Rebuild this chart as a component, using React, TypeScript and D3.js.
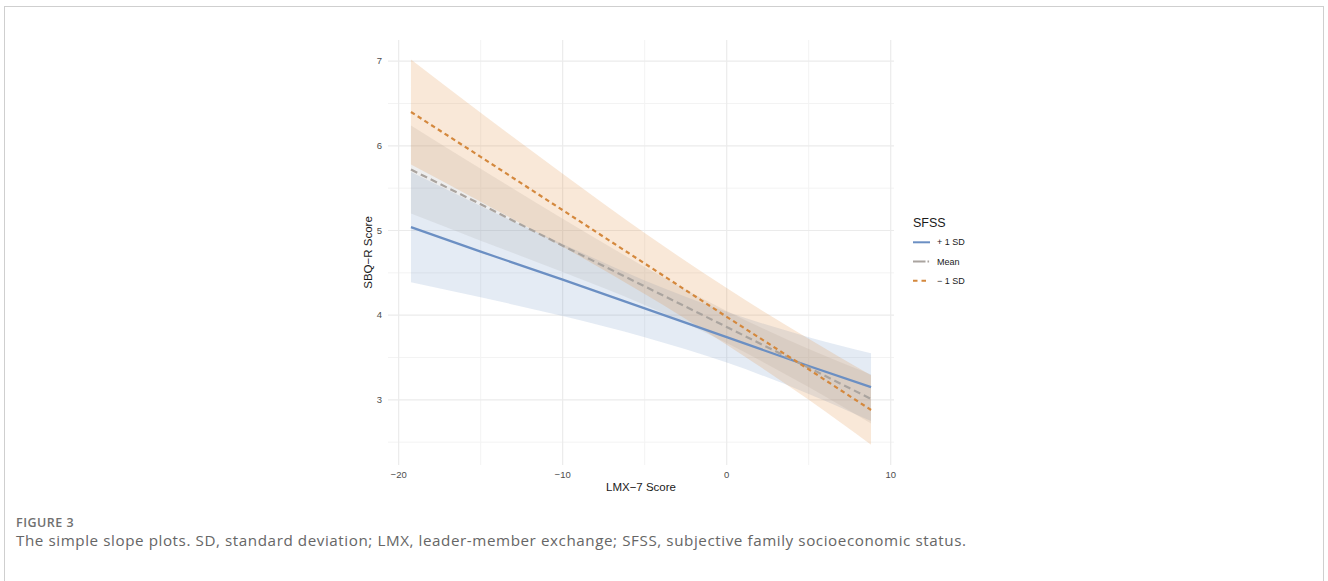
import React from "react";
import * as d3 from "d3";

// LMX-7 score positions the fitted values / bands were read at
const lmx = [-19.25, -15, -10, -5, 0, 5, 8.8];

// fitted SBQ-R score per SFSS level
const plusSdFit = [5.04, 4.75, 4.42, 4.08, 3.74, 3.4, 3.15];
const meanFit = [5.72, 5.31, 4.82, 4.34, 3.86, 3.38, 3.01];
const minusSdFit = [6.4, 5.87, 5.24, 4.61, 3.98, 3.36, 2.88];

// confidence bands
const plusSdLow = [4.39, 4.21, 3.99, 3.74, 3.44, 3.07, 2.75];
const plusSdHigh = [5.69, 5.29, 4.84, 4.41, 4.04, 3.74, 3.55];
const meanLow = [5.2, 4.88, 4.51, 4.12, 3.67, 3.15, 2.72];
const meanHigh = [6.24, 5.73, 5.14, 4.57, 4.05, 3.6, 3.3];
const minusSdLow = [5.78, 5.34, 4.81, 4.25, 3.65, 3.0, 2.47];
const minusSdHigh = [7.02, 6.39, 5.67, 4.97, 4.32, 3.72, 3.29];

const xTicks = [-20, -10, 0, 10];
const xMinor = [-15, -5, 5];
const yTicks = [3, 4, 5, 6, 7];
const yMinor = [2.5, 3.5, 4.5, 5.5, 6.5];
const levels = ["+ 1 SD", "Mean", "\u2212 1 SD"];

const W = 1328;
const H = 581;
const panel = { left: 388, right: 894, top: 40, bottom: 465 };

const series = [
  { name: levels[0], fit: plusSdFit, lo: plusSdLow, hi: plusSdHigh, color: "#6b8fc3", fill: "#6b8fc3", alpha: 0.18, dash: null, legendDash: null },
  { name: levels[1], fit: meanFit, lo: meanLow, hi: meanHigh, color: "#aaa49f", fill: "#a9a9a9", alpha: 0.2, dash: "7,4", legendDash: "12.5,2,1.6,10" },
  { name: levels[2], fit: minusSdFit, lo: minusSdLow, hi: minusSdHigh, color: "#d4883d", fill: "#e08a3a", alpha: 0.2, dash: "4.5,3.5", legendDash: "4.5,4" },
];

const tickFont = "'Liberation Sans', Arial, sans-serif";
const captionFont = "'Open Sans', sans-serif";

export default function App() {
  const x = d3.scaleLinear().domain([-20.65, 10.2]).range([panel.left, panel.right]);
  const y = d3.scaleLinear().domain([2.23, 7.25]).range([panel.bottom, panel.top]);

  const band = d3
    .area<number>()
    .x((_, i) => x(lmx[i]))
    .curve(d3.curveMonotoneX);
  const line = d3
    .line<number>()
    .x((_, i) => x(lmx[i]))
    .y((d) => y(d));

  return (
    <svg width={W} height={H} style={{ position: "absolute", left: 0, top: 0, background: "#fff" }}>
      <rect x={4.5} y={6.5} width={1319} height={640} fill="none" stroke="#cfcfcf" />

      {/* grid */}
      {yMinor.map((v) => (
        <line key={"ym" + v} x1={panel.left} x2={panel.right} y1={y(v)} y2={y(v)} stroke="#f3f3f3" strokeWidth={1} />
      ))}
      {xMinor.map((v) => (
        <line key={"xm" + v} x1={x(v)} x2={x(v)} y1={panel.top} y2={panel.bottom} stroke="#f3f3f3" strokeWidth={1} />
      ))}
      {yTicks.map((v) => (
        <line key={"y" + v} x1={panel.left} x2={panel.right} y1={y(v)} y2={y(v)} stroke="#ebebeb" strokeWidth={1.2} />
      ))}
      {xTicks.map((v) => (
        <line key={"x" + v} x1={x(v)} x2={x(v)} y1={panel.top} y2={panel.bottom} stroke="#ebebeb" strokeWidth={1.2} />
      ))}

      {/* confidence bands */}
      {series.map((s) => (
        <path
          key={"band" + s.name}
          d={band.y0((_, i) => y(s.lo[i])).y1((_, i) => y(s.hi[i]))(s.fit) || ""}
          fill={s.fill}
          fillOpacity={s.alpha}
        />
      ))}

      {/* fitted lines */}
      {series.map((s) => (
        <path
          key={"line" + s.name}
          d={line(s.fit) || ""}
          fill="none"
          stroke={s.color}
          strokeWidth={2.2}
          strokeDasharray={s.dash || undefined}
        />
      ))}

      {/* tick labels */}
      {yTicks.map((v) => (
        <text key={"yl" + v} x={panel.left - 6} y={y(v)} dy="0.35em" textAnchor="end" fontFamily={tickFont} fontSize={9.5} fill="#4d4d4d">
          {v}
        </text>
      ))}
      {xTicks.map((v) => (
        <text key={"xl" + v} x={x(v)} y={477.5} textAnchor="middle" fontFamily={tickFont} fontSize={9.5} fill="#4d4d4d">
          {d3.format("")(v).replace("-", "\u2212")}
        </text>
      ))}

      {/* axis titles */}
      <text x={(panel.left + panel.right) / 2} y={491} textAnchor="middle" fontFamily={tickFont} fontSize={11.5} fill="#1a1a1a">
        LMX{"\u2212"}7 Score
      </text>
      <text
        transform={`translate(372, ${(panel.top + panel.bottom) / 2}) rotate(-90)`}
        textAnchor="middle"
        fontFamily={tickFont}
        fontSize={11.5}
        fill="#1a1a1a"
      >
        SBQ{"\u2212"}R Score
      </text>

      {/* legend */}
      <text x={913} y={227} fontFamily={tickFont} fontSize={12.5} fill="#1a1a1a">
        SFSS
      </text>
      {series.map((s, i) => {
        const ly = 242.3 + i * 19.2;
        return (
          <g key={"lg" + s.name}>
            <line x1={913} x2={930} y1={ly} y2={ly} stroke={s.color} strokeWidth={2} strokeDasharray={s.legendDash || undefined} />
            <text x={937} y={ly} dy="0.35em" fontFamily={tickFont} fontSize={9} fill="#1a1a1a">
              {s.name}
            </text>
          </g>
        );
      })}

      {/* caption */}
      <text x={16} y={527} fontFamily={captionFont} fontSize={12.5} fontWeight={600} fill="#707070" letterSpacing={0.5}>
        FIGURE 3
      </text>
      <text x={16} y={545.5} fontFamily={captionFont} fontSize={15.2} fill="#666666" textLength={950} lengthAdjust="spacing">
        The simple slope plots. SD, standard deviation; LMX, leader-member exchange; SFSS, subjective family socioeconomic status.
      </text>
    </svg>
  );
}
